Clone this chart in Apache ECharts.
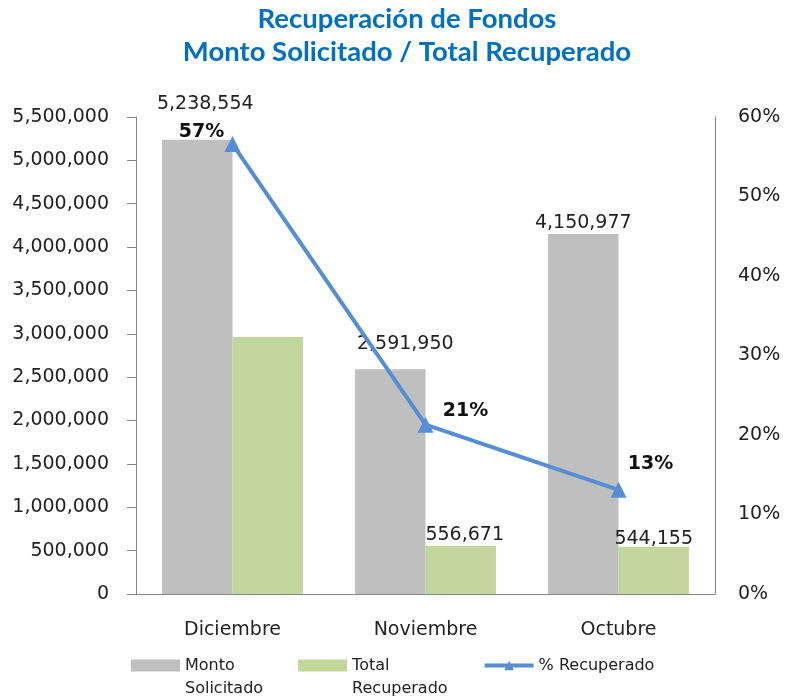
<!DOCTYPE html>
<html><head><meta charset="utf-8">
<script src="https://cdn.jsdelivr.net/npm/echarts@6/dist/echarts.min.js"></script>
<style>html,body{margin:0;padding:0;background:#fff}#c{width:788px;height:698px}</style>
</head><body><div id="c"></div>
<script>
const categories = ['Diciembre', 'Noviembre', 'Octubre'];
const montoSolicitado = [5238554, 2591950, 4150977];
const totalRecuperado = [2963000, 556671, 544155];
const pctRecuperado = [56.6, 21.3, 13.1];
const pctLabels = ['57%', '21%', '13%'];
const totalLabelShown = [false, true, true];
const seriesNames = ['Monto Solicitado', 'Total Recuperado', '% Recuperado'];

const fmt = v => v.toLocaleString('en-US');
const font = 'DejaVu Sans';
// label styling offsets (layout only)
const montoOffsets = [[8, -26], [15, -16], [0, -1]];
const totalOffsets = [[0, 0], [4, -1], [0, 2]];
const pctOffsets = [[-31, 11], [40, 9], [32, -3]];

const chart = echarts.init(document.getElementById('c'));
chart.setOption({
  animation: false,
  title: {
    text: 'Recuperación de Fondos\nMonto Solicitado / Total Recuperado',
    left: 402, top: -2, textAlign: 'center',
    textStyle: { fontFamily: 'Lato', fontWeight: 'bold', fontSize: 27.5, color: '#0070C0', lineHeight: 33 }
  },
  grid: { left: 136, right: 73, top: 117, bottom: 104 },
  legend: {
    top: 626, left: 126, itemGap: 35, itemWidth: 49, itemHeight: 12,
    textStyle: { fontFamily: font, fontSize: 16, color: '#222', lineHeight: 23 },
    formatter: n => n === '% Recuperado' ? n : '\n' + n.replace(' ', '\n'),
    data: [
      { name: seriesNames[0], icon: 'rect' },
      { name: seriesNames[1], icon: 'rect' },
      { name: seriesNames[2], lineStyle: { width: 4, color: '#558ED5' } }
    ]
  },
  xAxis: {
    type: 'category', data: categories,
    axisLine: { lineStyle: { color: '#868686' } },
    axisTick: { show: false },
    axisLabel: { fontFamily: font, fontSize: 19, color: '#222', margin: 27 }
  },
  yAxis: [
    {
      type: 'value', min: 0, max: 5500000, interval: 500000,
      axisLine: { show: true, lineStyle: { color: '#868686' } },
      axisTick: { show: true, length: 9, lineStyle: { color: '#868686' } },
      splitLine: { show: false },
      axisLabel: { fontFamily: font, fontSize: 19, color: '#222', margin: 27, formatter: v => fmt(v) }
    },
    {
      type: 'value', min: 0, max: 60, interval: 10,
      axisLine: { show: true, lineStyle: { color: '#868686' } },
      axisTick: { show: false },
      splitLine: { show: false },
      axisLabel: { fontFamily: font, fontSize: 19, color: '#222', margin: 23, formatter: v => v + '%' }
    }
  ],
  series: [
    {
      name: seriesNames[0], type: 'bar', barGap: '0%', barCategoryGap: '27%',
      itemStyle: { color: '#BFBFBF' },
      data: montoSolicitado.map((v, i) => ({
        value: v,
        label: { show: true, position: 'top', distance: 0, offset: montoOffsets[i],
          fontFamily: font, fontSize: 19, color: '#222', formatter: p => fmt(p.value) }
      }))
    },
    {
      name: seriesNames[1], type: 'bar',
      itemStyle: { color: '#C3D69B' },
      data: totalRecuperado.map((v, i) => ({
        value: v,
        label: { show: totalLabelShown[i], position: 'top', distance: 0, offset: totalOffsets[i],
          fontFamily: font, fontSize: 19, color: '#222', formatter: p => fmt(p.value) }
      }))
    },
    {
      name: seriesNames[2], type: 'line', yAxisIndex: 1,
      symbol: 'triangle', symbolSize: 16,
      lineStyle: { color: '#558ED5', width: 4 },
      itemStyle: { color: '#558ED5' },
      data: pctRecuperado.map((v, i) => ({
        value: v,
        label: { show: true, position: 'top', offset: pctOffsets[i], formatter: pctLabels[i],
          fontFamily: font, fontWeight: 'bold', fontSize: 19, color: '#111' }
      }))
    }
  ]
});
</script></body></html>
